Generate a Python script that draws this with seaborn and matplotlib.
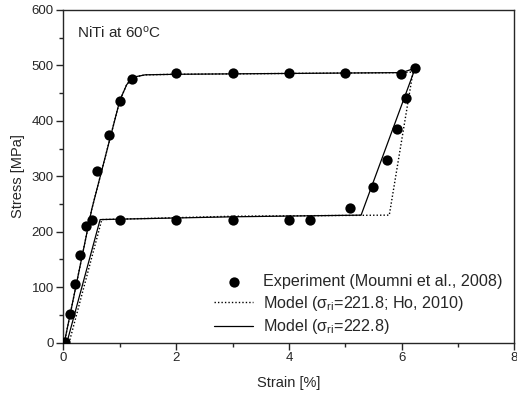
import numpy as np
import pandas as pd
import seaborn as sns
import matplotlib.pyplot as plt
from matplotlib.ticker import MultipleLocator

# experimental points (Moumni et al., 2008), loading then unloading
exp_strain = [0.03, 0.11, 0.21, 0.30, 0.40, 0.50, 0.60, 0.80, 1.01, 1.21, 2.0, 3.0, 4.0, 4.99,
              5.98, 6.23, 6.08, 5.91, 5.74, 5.49, 5.08, 4.38, 4.0, 3.0, 2.0, 1.01]
exp_stress = [2, 52, 105, 158, 211, 221, 310, 375, 435, 475, 487, 487, 487, 487,
              485, 495, 442, 385, 329, 280, 242, 221, 221, 221, 221, 221]

# model with sigma_ri = 222.8 (solid)
model_strain = [0.015, 0.5, 1.0, 1.12, 1.2, 1.3, 1.45, 2.0, 6.0, 6.24, 5.28, 3.0, 0.65, 0.06]
model_stress = [0, 240, 437, 465, 475, 480, 483, 484, 487, 495, 230, 227, 222, 0]

# model with sigma_ri = 221.8, Ho 2010 (dotted)
ho_strain = [0.015, 0.5, 1.0, 1.12, 1.2, 1.3, 1.45, 2.0, 6.0, 6.2, 5.78, 3.0, 0.68, 0.10]
ho_stress = [0, 240, 437, 465, 475, 480, 483, 484, 487, 488, 230, 228, 222, 0]

sns.set_style("ticks")
plt.rcParams['font.family'] = ['Liberation Sans', 'DejaVu Sans']
plt.rcParams['mathtext.fontset'] = 'custom'
plt.rcParams['mathtext.rm'] = 'Liberation Sans'
plt.rcParams['mathtext.it'] = 'Liberation Sans:italic'

fig = plt.figure(figsize=(5.17, 3.98), dpi=100)
ax = fig.add_axes([0.1228, 0.139, 0.8722, 0.836])

exp_df = pd.DataFrame({"strain": exp_strain, "stress": exp_stress})
model_df = pd.DataFrame({"strain": model_strain, "stress": model_stress})
ho_df = pd.DataFrame({"strain": ho_strain, "stress": ho_stress})

sns.lineplot(data=ho_df, x="strain", y="stress", sort=False, estimator=None, ax=ax,
             color="k", linewidth=1.0, linestyle=(0, (1, 1.5)),
             label="Model (σ$_{\\rm ri}$=221.8; Ho, 2010)")
sns.lineplot(data=model_df, x="strain", y="stress", sort=False, estimator=None, ax=ax,
             color="k", linewidth=0.9, label="Model (σ$_{\\rm ri}$=222.8)")
sns.scatterplot(data=exp_df, x="strain", y="stress", ax=ax, color="k", s=55,
                edgecolor="k", linewidth=0, zorder=5,
                label="Experiment (Moumni et al., 2008)")

ax.set_xlim(0, 8)
ax.set_ylim(0, 600)
ax.xaxis.set_major_locator(MultipleLocator(2))
ax.xaxis.set_minor_locator(MultipleLocator(1))
ax.yaxis.set_major_locator(MultipleLocator(100))
ax.yaxis.set_minor_locator(MultipleLocator(50))
ax.tick_params(which="major", direction="out", length=5, width=1, labelsize=9.5, pad=2)
ax.tick_params(which="minor", direction="out", length=3, width=1)
for s in ax.spines.values():
    s.set_linewidth(1.0)

ax.set_xlabel("Strain [%]", fontsize=10.5, labelpad=8)
ax.set_ylabel("Stress [MPa]", fontsize=10.5, labelpad=5)
ax.text(0.03, 0.955, "NiTi at 60$^{\\rm o}$C", transform=ax.transAxes,
        fontsize=11, va="top", ha="left")

h, l = ax.get_legend_handles_labels()
order = [2, 0, 1]
ax.legend([h[i] for i in order], [l[i] for i in order], loc="lower right",
          bbox_to_anchor=(1.005, -0.025), frameon=False, fontsize=11.6,
          handlelength=2.4, handletextpad=0.6, labelspacing=0.3)

fig.savefig("out.png", dpi=100)
